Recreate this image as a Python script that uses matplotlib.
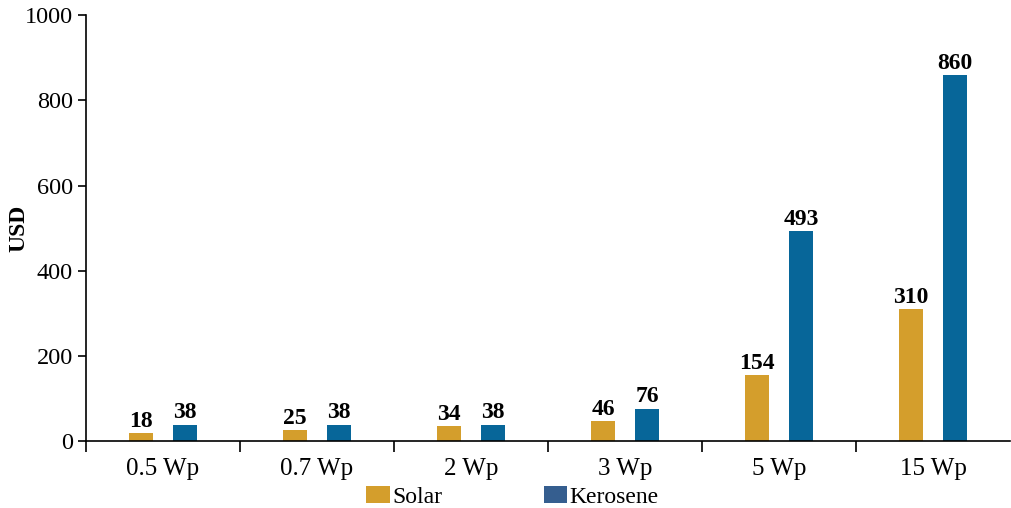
import matplotlib
matplotlib.use("Agg")
import matplotlib.pyplot as plt
import numpy as np
from matplotlib.patches import Patch
from matplotlib.font_manager import FontProperties

# -------------------------------------------------------------------
# DATOS
# -------------------------------------------------------------------
categorias = ["0.5 Wp", "0.7 Wp", "2 Wp", "3 Wp", "5 Wp", "15 Wp"]
solar = [18, 25, 34, 46, 154, 310]
kerosene = [38, 38, 38, 76, 493, 860]

COLOR_SOLAR = "#D49E2C"
COLOR_KEROSENE = "#076699"
COLOR_KEROSENE_LEYENDA = "#355E8F"

FAMILIA = ["Liberation Serif", "DejaVu Serif"]
plt.rcParams["font.family"] = FAMILIA

fig = plt.figure(figsize=(10.11, 5.08), dpi=100)
ax = fig.add_axes([0.085, 0.132, 0.914, 0.838])

x = np.arange(len(categorias))
ancho = 0.156
desp = 0.143

b1 = ax.bar(x - desp, solar, width=ancho, color=COLOR_SOLAR)
b2 = ax.bar(x + desp, kerosene, width=ancho, color=COLOR_KEROSENE)

for barras, valores in [(b1, solar), (b2, kerosene)]:
    for barra, v in zip(barras, valores):
        ax.text(
            barra.get_x() + barra.get_width() / 2,
            v + 3,
            str(v),
            ha="center",
            va="bottom",
            fontsize=17,
            fontweight="bold",
        )

ax.set_xlim(-0.5, 5.5)
ax.set_ylim(0, 1000)
ax.set_yticks([0, 200, 400, 600, 800, 1000])
ax.tick_params(axis="y", labelsize=17.5, length=6, width=1.2, direction="out")

# etiquetas centradas y ticks en los limites de cada categoria
ax.set_xticks(x)
ax.set_xticklabels(categorias, fontsize=18)
ax.tick_params(axis="x", which="major", length=0, pad=12)
ax.set_xticks(np.arange(-0.5, 5.5, 1.0), minor=True)
ax.tick_params(axis="x", which="minor", length=8, width=1.2, direction="out")

# etiqueta del eje Y colocada a mano para que no se corte
fig.text(0.019, 0.551, "USD", rotation=90, ha="center", va="center",
         fontsize=17, fontweight="bold")

for lado in ["top", "right"]:
    ax.spines[lado].set_visible(False)
for lado in ["left", "bottom"]:
    ax.spines[lado].set_linewidth(1.2)

handles = [
    Patch(facecolor=COLOR_SOLAR, label="Solar"),
    Patch(facecolor=COLOR_KEROSENE_LEYENDA, label="Kerosene"),
]
fig.legend(
    handles=handles,
    loc="center",
    bbox_to_anchor=(0.507, 0.022),
    ncol=2,
    frameon=False,
    prop=FontProperties(family=FAMILIA, size=17),
    handlelength=1.0,
    handleheight=0.75,
    handletextpad=0.1,
    columnspacing=4.3,
    borderpad=0.1,
)

fig.savefig("out.png", dpi=100)
